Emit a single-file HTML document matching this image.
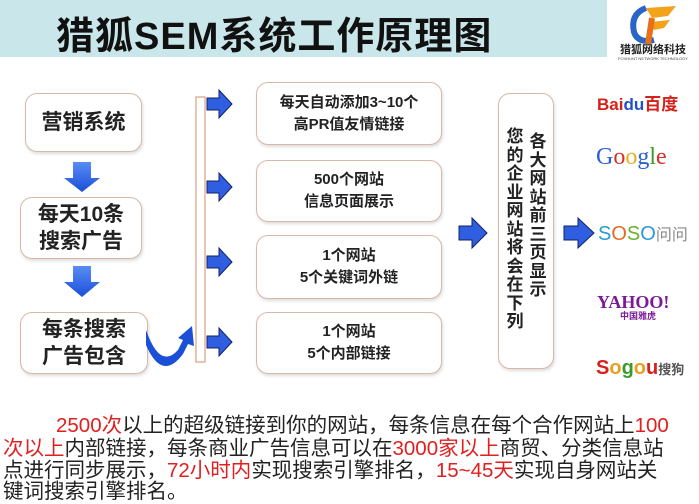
<!DOCTYPE html>
<html><head><meta charset="utf-8"><style>
body{margin:0;width:699px;height:500px;background:#fff;position:relative;overflow:hidden;font-family:"Liberation Sans","Noto Sans CJK SC",sans-serif}
.a{position:absolute}
.box{position:absolute;border:1.5px solid #d9b8a8;border-radius:12px;background:#fff;box-shadow:1px 2px 3px #ddd;display:flex;align-items:center;justify-content:center;text-align:center;font-weight:bold;color:#222}
.l{font-size:21px;line-height:27px}
.m{font-size:15px;line-height:22px}
.line{position:absolute;left:3px;font-size:20.5px;white-space:nowrap;color:#222;font-family:"Liberation Sans","Noto Sans CJK SC",sans-serif}
.r{color:#e02020}
</style></head><body>
<div class="a" style="left:0;top:0;width:607px;height:57px;background:#c9e6ea"></div>
<div class="a" style="left:56px;top:5px;font-size:38px;font-weight:bold;color:#111;white-space:nowrap;letter-spacing:1px">猎狐SEM系统工作原理图</div>
<svg class="a" style="left:608px;top:0" width="91" height="62">
<path d="M38 8 Q22 14 26 32 Q30 44 46 40" fill="none" stroke="#2a66c8" stroke-width="6"/>
<path d="M38 8 L68 6 L60 16 L44 18 Z" fill="#f3a21c"/>
<path d="M42 22 L62 20 L56 28 L46 30 Z" fill="#f3a21c"/>
<path d="M44 18 L40 44" stroke="#e8701a" stroke-width="6"/>
<text x="45" y="53" font-size="11" font-weight="bold" text-anchor="middle" fill="#222" font-family="Noto Sans CJK SC,sans-serif">猎狐网络科技</text>
<text x="45" y="60" font-size="4" text-anchor="middle" fill="#444">FOXHUNT NETWORK TECHNOLOGY</text>
</svg>

<div class="box l" style="left:25px;top:93px;width:115px;height:57px">营销系统</div>
<div class="box l" style="left:20px;top:197px;width:120px;height:60px">每天10条<br>搜索广告</div>
<div class="box l" style="left:20px;top:312px;width:126px;height:60px">每条搜索<br>广告包含</div>

<svg class="a" style="left:0;top:0" width="699" height="400">
<defs><linearGradient id="g" x1="0" x2="0" y1="0" y2="1"><stop offset="0" stop-color="#5a8cf5"/><stop offset="1" stop-color="#1a4fd8"/></linearGradient></defs>
<g fill="url(#g)">
<path d="M73 162 H91 V178 H100 L82 192 L64 178 H73 Z"/>
<path d="M73 266 H91 V282 H100 L82 297 L64 282 H73 Z"/>
</g>
<path d="M146 330 Q160 370 178 350 L183 340 L178 338 L192 326 L194 346 L188 344 L183 354 Q162 382 146 345 Z" fill="#1a4fd8"/>
<rect x="196" y="97" width="9" height="265" fill="none" stroke="#d9a080" stroke-width="1.2"/>
<g fill="#2f5fe0" stroke="#112266" stroke-width="1">
<path d="M207 98 H219 V90 L232 104 L219 118 V110 H207 Z"/>
<path d="M207 181 H219 V173 L232 187 L219 201 V193 H207 Z"/>
<path d="M207 256 H219 V248 L232 262 L219 276 V268 H207 Z"/>
<path d="M207 336 H219 V328 L232 342 L219 356 V348 H207 Z"/>
<path d="M459 226 H472 V218 L487 233 L472 248 V240 H459 Z"/>
<path d="M564 226 H578 V218 L594 233 L578 248 V240 H564 Z"/>
</g>
</svg>

<div class="box m" style="left:256px;top:82px;width:184px;height:61px">每天自动添加3~10个<br>高PR值友情链接</div>
<div class="box m" style="left:256px;top:160px;width:184px;height:60px">500个网站<br>信息页面展示</div>
<div class="box m" style="left:256px;top:235px;width:184px;height:62px">1个网站<br>5个关键词外链</div>
<div class="box m" style="left:256px;top:312px;width:184px;height:60px">1个网站<br>5个内部链接</div>

<div class="box" style="left:498px;top:93px;width:54px;height:274px"></div>
<div class="a" style="left:528px;top:133px;width:20px;font-size:17px;line-height:18.5px;font-weight:bold;color:#222;text-align:center">各大网站前三页显示</div>
<div class="a" style="left:505px;top:128px;width:20px;font-size:17px;line-height:18.5px;font-weight:bold;color:#222;text-align:center">您的企业网站将会在下列</div>

<div class="a" style="left:597px;top:90px;font-size:17px;font-weight:bold;color:#d8201a;white-space:nowrap">Bai<span style="color:#2050d0">du</span>百度</div>
<div class="a" style="left:596px;top:144px;font-size:24px;font-family:'Liberation Serif',serif;white-space:nowrap"><span style="color:#2b5fd8">G</span><span style="color:#d8302a">o</span><span style="color:#e8b020">o</span><span style="color:#2b5fd8">g</span><span style="color:#3a9a30">l</span><span style="color:#d8302a">e</span></div>
<div class="a" style="left:598px;top:221px;font-size:20px;white-space:nowrap"><span style="color:#2a9ad8">S</span><span style="color:#e86a20">O</span><span style="color:#6ab030">S</span><span style="color:#2a9ad8">O</span><span style="color:#888;font-size:16px">问问</span></div>
<div class="a" style="left:597px;top:292px;font-size:18px;font-weight:bold;font-family:'Liberation Serif',serif;color:#7a1a9a;white-space:nowrap">YAHOO!</div>
<div class="a" style="left:620px;top:309px;font-size:9px;font-weight:bold;color:#7a1a9a">中国雅虎</div>
<div class="a" style="left:596px;top:357px;font-size:20px;font-weight:bold;white-space:nowrap"><span style="color:#d82020">S</span><span style="color:#e8a020">o</span><span style="color:#3a9a30">g</span><span style="color:#e8a020">o</span><span style="color:#d82020">u</span><span style="color:#555;font-size:13px">搜狗</span></div>

<div class="line" style="top:408px;left:56px"><span class="r">2500次</span>以上的超级链接到你的网站，每条信息在每个合作网站上<span class="r">100</span></div>
<div class="line" style="top:431px"><span class="r">次以上</span>内部链接，每条商业广告信息可以在<span class="r">3000家以上</span>商贸、分类信息站</div>
<div class="line" style="top:453px">点进行同步展示，<span class="r">72小时内</span>实现搜索引擎排名，<span class="r">15~45天</span>实现自身网站关</div>
<div class="line" style="top:474px">键词搜索引擎排名。</div>
</body></html>
